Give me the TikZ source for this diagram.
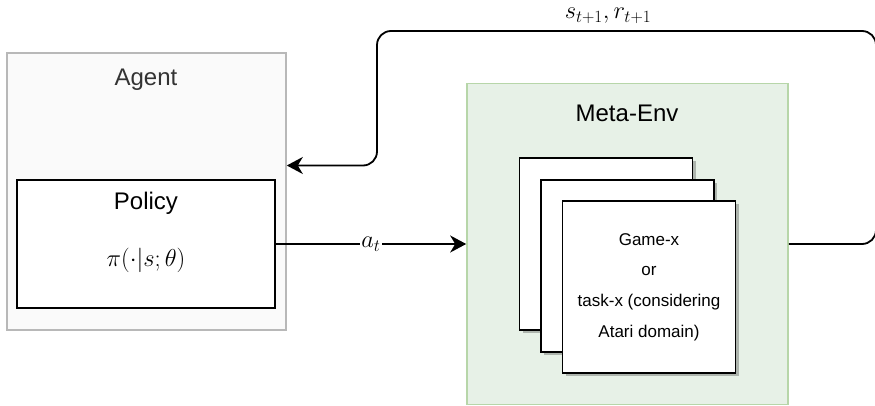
\RequirePackage{fix-cm}
\documentclass[tikz,border=0pt]{standalone}
\usepackage{fontspec}
\setmainfont{Liberation Sans}
\usetikzlibrary{arrows.meta,shadows}
\definecolor{agentfill}{HTML}{FAFAFA}
\definecolor{agentline}{HTML}{B8B8B8}
\definecolor{agenttext}{HTML}{333333}
\definecolor{envfill}{HTML}{E7F1E7}
\definecolor{envline}{HTML}{B7D6A9}

\begin{document}
\begin{tikzpicture}[x=1pt,y=-1pt,
      agentbox/.style={draw=agentline,fill=agentfill,line width=1.6pt,minimum width=279pt,minimum height=277pt,inner sep=0pt},
      policybox/.style={draw=black,fill=white,line width=1.5pt,minimum width=258pt,minimum height=128pt,inner sep=0pt},
      envbox/.style={draw=envline,fill=envfill,line width=1.6pt,minimum width=321pt,minimum height=321pt,inner sep=0pt},
      card/.style={draw=black,fill=white,line width=1.8pt,minimum width=173pt,minimum height=172pt,inner sep=0pt,
        drop shadow={shadow xshift=3pt,shadow yshift=-3pt,opacity=0.25,fill=black}},
      nametext/.style={font=\fontsize{24}{28}\selectfont,inner sep=0pt},
      mathlab/.style={font=\fontsize{24.5}{29}\selectfont,inner sep=1pt},
      flow/.style={line width=1.8pt,-{Stealth[length=16pt,width=17pt,inset=5pt]}},
    ]
    \useasboundingbox (0,0) rectangle (875,406);
    % agent side
    \node[agentbox] (agent) at (146.5,191.5) {};
    \node[nametext,text=agenttext] (agentname) at (146,80) {Agent};
    \node[policybox] (policy) at (146,244) {};
    \node[nametext] (policyname) at (146,203) {Policy};
    \node[mathlab] (policyfn) at (146,260) {$\pi(\cdot|s;\theta)$};
    % environment side
    \node[envbox] (env) at (627.5,244) {};
    \node[nametext] (envname) at (627,113) {Meta-Env};
    \node[card] (card1) at (606,244) {};
    \node[card] (card2) at (627.5,266) {};
    \node[card,align=center,font=\fontsize{17}{30.7}\selectfont] (card3) at (649,287)
      {Game-x\\or\\task-x (considering\\Atari domain)};
    % connectors
    \coordinate (fbr) at (876,31);
    \coordinate (fbl) at (377,31);
    \draw[flow] (policy.east) -- node[mathlab,fill=white] (actlab) {$a_t$} (env.west);
    \draw[flow,rounded corners=14pt] (env.east) -| (fbr) -- (fbl) |- ([yshift=26pt]agent.east);
    \node[mathlab,anchor=base] (obslab) at (608,19) {$s_{t+1}, r_{t+1}$};
\end{tikzpicture}
\end{document}
